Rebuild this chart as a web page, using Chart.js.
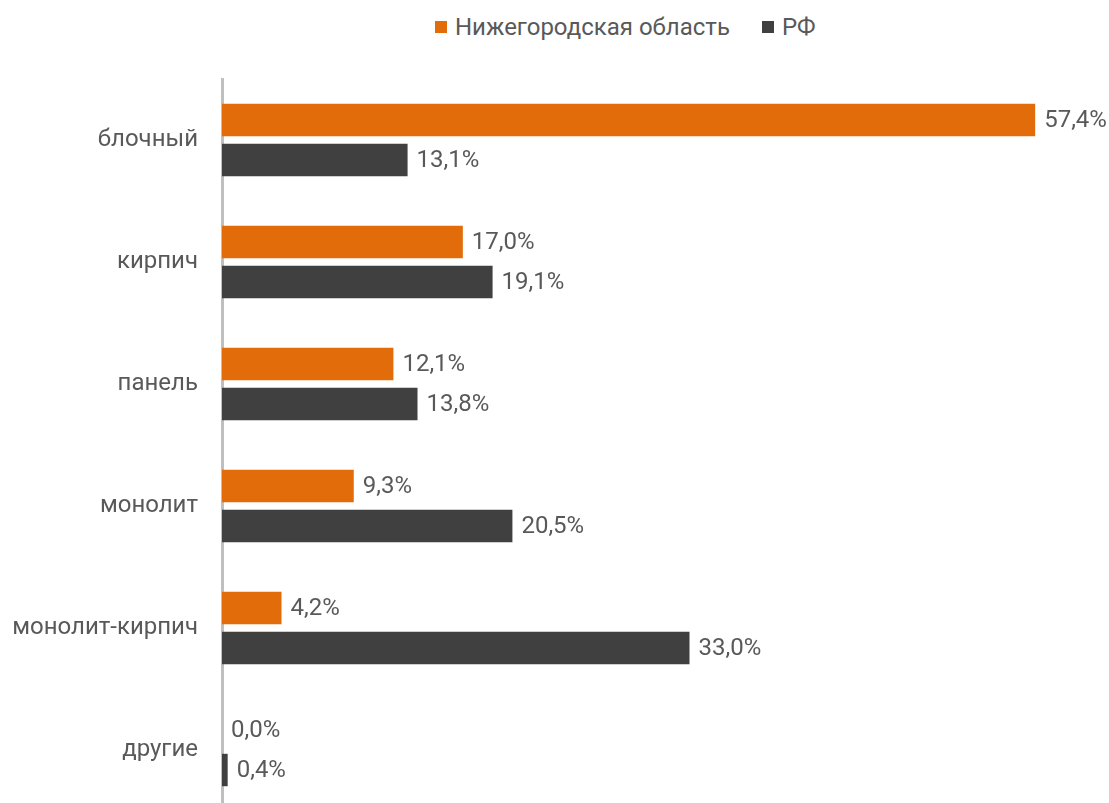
<!DOCTYPE html>
<html lang="ru">
<head>
<meta charset="utf-8">
<script src="https://cdn.jsdelivr.net/npm/chart.js@4"></script>
<style>
  html, body { margin: 0; padding: 0; background: #fff; overflow: hidden; }
  .wrap { position: relative; width: 1109px; height: 803px; }
  #legend {
    position: absolute; top: 13px; left: 435px;
    display: flex; align-items: center;
    font: 24px/28px Roboto, sans-serif; color: #595959;
  }
  #legend .item { display: flex; align-items: center; margin-right: 32px; }
  #legend .box { width: 12px; height: 12px; margin-right: 8px; }
  canvas { position: absolute; top: 0; left: 0; }
</style>
</head>
<body>
<div class="wrap">
  <div id="legend"></div>
  <canvas id="chart" width="1109" height="815"></canvas>
</div>
<script>
// ---------- DATI ----------
const categories = ['блочный', 'кирпич', 'панель', 'монолит', 'монолит-кирпич', 'другие'];
const regionName = 'Нижегородская область';
const regionValues = [57.4, 17.0, 12.1, 9.3, 4.2, 0.0];
const rfName = 'РФ';
const rfValues = [13.1, 19.1, 13.8, 20.5, 33.0, 0.4];

const ORANGE = '#E36C0A';
const DARK = '#404040';
const TEXT = '#595959';
const FONT = 'Roboto, sans-serif';

// etichette valore a destra delle barre
const valueLabels = {
  id: 'valueLabels',
  afterDatasetsDraw(chart) {
    const ctx = chart.ctx;
    ctx.save();
    ctx.font = '24px ' + FONT;
    ctx.fillStyle = TEXT;
    ctx.textBaseline = 'middle';
    ctx.textAlign = 'left';
    chart.data.datasets.forEach((ds, i) => {
      chart.getDatasetMeta(i).data.forEach((bar, j) => {
        const txt = ds.data[j].toFixed(1).replace('.', ',') + '%';
        ctx.fillText(txt, bar.x + 9, bar.y + 1);
      });
    });
    ctx.restore();
  }
};

const chart = new Chart(document.getElementById('chart'), {
  type: 'bar',
  data: {
    labels: categories,
    datasets: [
      { label: regionName, data: regionValues, backgroundColor: ORANGE },
      { label: rfName, data: rfValues, backgroundColor: DARK }
    ]
  },
  options: {
    indexAxis: 'y',
    responsive: false,
    animation: false,
    categoryPercentage: 0.656,
    barPercentage: 0.81,
    layout: { padding: { top: 79, right: 37, bottom: 4, left: 0 } },
    scales: {
      x: { display: false, min: 0, max: 60 },
      y: {
        // larghezza fissa dell'asse, senza padding extra sopra/sotto
        afterFit(scale) {
          scale.width = 222;
          scale.paddingTop = 0;
          scale.paddingBottom = 0;
        },
        grid: { display: false, drawTicks: false },
        border: { display: true, color: '#BFBFBF', width: 3 },
        ticks: { color: TEXT, font: { family: 'Roboto', size: 24 }, padding: 24 }
      }
    },
    plugins: {
      legend: { display: false },
      tooltip: { enabled: false }
    }
  },
  plugins: [valueLabels]
});

// legenda in HTML
const legend = document.getElementById('legend');
chart.data.datasets.forEach(ds => {
  const item = document.createElement('div');
  item.className = 'item';
  item.innerHTML = `<span class="box" style="background:${ds.backgroundColor}"></span>${ds.label}`;
  legend.appendChild(item);
});
</script>
</body>
</html>
